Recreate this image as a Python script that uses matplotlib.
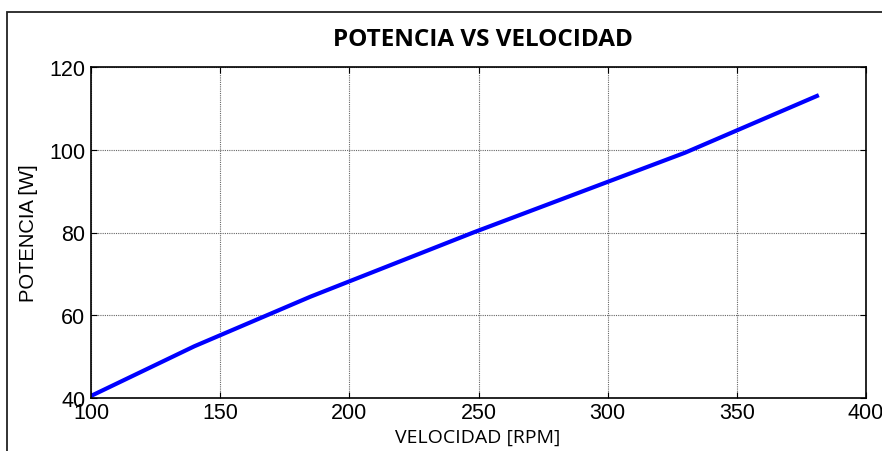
import matplotlib
matplotlib.use("Agg")
import matplotlib.pyplot as plt
from matplotlib.patches import Rectangle

# datos
velocidad = [100, 140, 185, 248, 330, 381]
potencia = [40.5, 52.5, 64.5, 80.0, 99.3, 113.0]
xticks = [100, 150, 200, 250, 300, 350, 400]
yticks = [40, 60, 80, 100, 120]

fig = plt.figure(figsize=(8.82, 4.52), dpi=100)
ax = fig.add_axes([91/882, 53/452, 775/882, 331/452])

ax.plot(velocidad, potencia, color="#0000ff", lw=3)
ax.set_xlim(100, 400)
ax.set_ylim(40, 120)
ax.set_xticks(xticks)
ax.set_yticks(yticks)
ax.grid(True, color="#666666", linestyle=(0, (1, 1)), linewidth=0.8)
ax.tick_params(direction="in", length=4, width=0.8, labelsize=15.5,
               top=True, right=True)
ax.tick_params(axis="x", pad=3)
ax.tick_params(axis="y", pad=4)
for lab in ax.get_xticklabels() + ax.get_yticklabels():
    lab.set_family("Liberation Sans")
for s in ax.spines.values():
    s.set_linewidth(1.2)

fig.text(483/882, 1 - 40/452, "POTENCIA VS VELOCIDAD", ha="center", va="center",
         fontsize=17.5, fontweight="bold", family="Open Sans")
fig.text(478/882, 1 - 438/452, "VELOCIDAD [RPM]", ha="center", va="center",
         fontsize=14, family="Open Sans")
fig.text(28/882, 1 - 233/452, "POTENCIA [W]", ha="center", va="center",
         rotation=90, fontsize=14.5, family="Liberation Sans")

# marco exterior
fig.patches.append(Rectangle((7/882, -0.2), 1.2, 1.2 - 13/452, transform=fig.transFigure,
                             fill=False, edgecolor="#222222", lw=1.3))

fig.savefig("out.png", dpi=100)
